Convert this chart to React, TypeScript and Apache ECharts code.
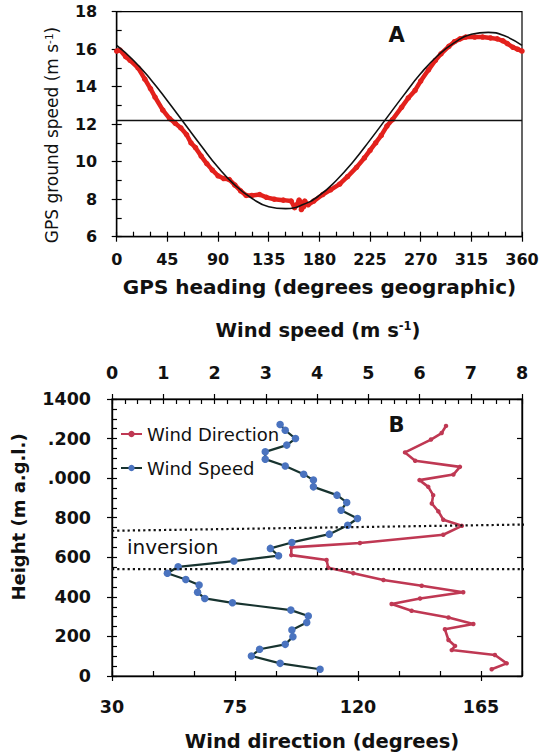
import React, { useEffect, useRef } from "react";
import * as echarts from "echarts";

const FONT = "DejaVu Sans";

// ---------- Panel A: GPS ground speed vs heading ----------
const fitHeading = [0, 15, 30, 45, 60, 75, 90, 105, 120, 135, 150, 165, 180, 195, 210, 225, 240, 255, 270, 285, 300, 315, 330, 345, 360];
const fitSpeed = [16.2, 15.4, 14.4, 13.25, 12.05, 10.85, 9.7, 8.75, 8.05, 7.6, 7.5, 7.7, 8.2, 9.0, 10.0, 11.15, 12.35, 13.55, 14.7, 15.65, 16.35, 16.8, 16.9, 16.7, 16.2];

const obsHeading = [0, 3, 8, 12, 19, 25, 30, 34, 41, 47, 52, 57, 62, 66, 70, 75, 80, 85, 90, 95, 100, 105, 110, 115, 120, 127, 133, 140, 148, 155, 158, 160, 162, 163, 164, 166, 167, 170, 175, 183, 190, 198, 205, 213, 220, 225, 230, 235, 240, 245, 253, 259, 265, 270, 277, 283, 288, 295, 300, 305, 310, 318, 325, 332, 338, 343, 347, 352, 356, 360];
const obsSpeed = [15.9, 15.95, 15.6, 15.4, 15.0, 14.4, 13.9, 13.45, 12.75, 12.3, 12.05, 11.8, 11.45, 11.0, 10.75, 10.3, 9.9, 9.55, 9.25, 9.1, 9.05, 8.75, 8.45, 8.2, 8.2, 8.25, 8.1, 8.0, 7.95, 7.9, 7.55, 7.7, 7.95, 7.85, 7.45, 7.6, 7.9, 7.7, 7.9, 8.25, 8.5, 8.8, 9.2, 9.7, 10.2, 10.6, 11.0, 11.4, 11.9, 12.25, 12.9, 13.4, 13.8, 14.3, 14.9, 15.4, 15.75, 16.15, 16.4, 16.55, 16.65, 16.65, 16.65, 16.6, 16.55, 16.45, 16.3, 16.1, 16.0, 15.9];

const meanGroundSpeed = 12.2;

// ---------- Panel B: wind profile ----------
const windSpeedHeights = [1271, 1242, 1200, 1167, 1133, 1096, 1061, 1020, 990, 956, 914, 877, 838, 796, 762, 717, 675, 645, 608, 581, 552, 519, 488, 460, 423, 392, 370, 333, 303, 270, 232, 198, 160, 135, 101, 64, 34];
const windSpeedValues = [3.28, 3.38, 3.58, 3.41, 2.99, 2.99, 3.38, 3.74, 3.93, 3.93, 4.39, 4.58, 4.47, 4.79, 4.6, 4.24, 3.51, 3.09, 3.25, 2.38, 1.29, 1.08, 1.44, 1.7, 1.67, 1.81, 2.35, 3.49, 3.83, 3.8, 3.51, 3.53, 3.38, 2.88, 2.72, 3.28, 4.06];

const windDirHeights = [1264, 1228, 1195, 1130, 1088, 1057, 1018, 990, 956, 914, 872, 832, 790, 759, 714, 672, 650, 611, 586, 547, 519, 485, 456, 423, 392, 364, 330, 296, 263, 236, 182, 152, 131, 106, 64, 34];
const windDirValues = [152.2, 150.6, 146.7, 137.2, 140.9, 157.3, 154.9, 142.5, 145.7, 147.5, 147, 149.4, 151.2, 158, 151.2, 120.7, 95.6, 95.6, 108.5, 109.1, 118.3, 129.3, 143.3, 158.5, 142.7, 132.3, 139.6, 153.1, 162.2, 151.8, 153.1, 155.5, 154.3, 170.1, 174.4, 168.9];

const heightTickValues = [0, 200, 400, 600, 800, 1000, 1200, 1400];
const heightTickLabels = ["0", "200", "400", "600", "800", ".000", ".200", "1400"];
const directionMajorTicks = [30, 75, 120, 165];

// inversion layer bounds (speed-axis extent, heights at both ends)
const inversionSpeedExtent = [0, 8.16];
const inversionTopHeights = [734, 766];
const inversionBaseHeights = [540, 540];

const axisLineStyle = { color: "#000", width: 1.4 };
const tickStyle = { color: "#000", width: 1.2 };

function mainAxis(extra: any) {
  return {
    type: "value",
    axisLine: { show: true, onZero: false, lineStyle: axisLineStyle },
    axisTick: { show: true, inside: true, length: 5, lineStyle: tickStyle },
    splitLine: { show: false },
    minorSplitLine: { show: false },
    ...extra,
  };
}
function overlayAxis(extra: any) {
  return {
    type: "value",
    axisLine: { show: false, onZero: false },
    axisTick: { show: true, inside: false, length: 5, lineStyle: tickStyle },
    axisLabel: { show: false },
    splitLine: { show: false },
    ...extra,
  };
}

export default function App() {
  const ref = useRef<HTMLDivElement>(null);
  useEffect(() => {
    if (!ref.current) return;
    const chart = echarts.init(ref.current, null, { renderer: "svg" });
    const labelA = { fontFamily: FONT, fontWeight: "bold", fontSize: 16, color: "#111" };
    const labelB = { fontFamily: FONT, fontWeight: "bold", fontSize: 17.5, color: "#111" };
    const txt = (x: number, y: number, text: string, size: number, weight: string, extra: any = {}) => ({
      type: "text",
      x,
      y,
      ...extra,
      style: {
        text,
        fontFamily: FONT,
        fontSize: size,
        fontWeight: weight,
        fill: "#111",
        align: extra.align || "center",
        textAlign: extra.align || "center",
        verticalAlign: "middle",
        textVerticalAlign: "middle",
        ...(extra.style || {}),
      },
    });
    const option: any = {
      animation: false,
      grid: [
        { left: 116.7, top: 11.7, width: 405.3, height: 225, show: true, borderColor: "#000", borderWidth: 1.2, containLabel: false, outerBoundsMode: "none" },
        { left: 112, top: 399, width: 410, height: 277, show: true, borderColor: "#000", borderWidth: 1.2, containLabel: false, outerBoundsMode: "none" },
      ],
      legend: {
        data: ["Wind Direction", "Wind Speed"],
        orient: "vertical",
        left: 120,
        top: 424,
        padding: 0,
        itemWidth: 21,
        itemHeight: 8,
        itemGap: 14,
        textStyle: { fontFamily: FONT, fontSize: 18, color: "#111", lineHeight: 20 },
      },
      xAxis: [
        mainAxis({
          gridIndex: 0, min: 0, max: 360, interval: 45, position: "bottom",
          minorTick: { show: true, splitNumber: 3, length: 5, lineStyle: tickStyle },
          axisLabel: { ...labelA, margin: 15 },
        }),
        overlayAxis({ gridIndex: 0, min: 0, max: 360, interval: 45, position: "bottom" }),
        mainAxis({
          gridIndex: 1, min: 0, max: 8, interval: 1, position: "top",
          minorTick: { show: true, splitNumber: 4, length: 5, lineStyle: tickStyle },
          axisLabel: { ...labelB, margin: 17 },
        }),
        overlayAxis({ gridIndex: 1, min: 0, max: 8, interval: 1, position: "top" }),
        mainAxis({
          gridIndex: 1, min: 30, max: 180, interval: 15, position: "bottom",
          axisLabel: {
            ...labelB, margin: 22,
            formatter: (v: number) => (directionMajorTicks.includes(v) ? String(v) : ""),
          },
        }),
        overlayAxis({
          gridIndex: 1, min: 30, max: 180, interval: 15, position: "bottom",
          axisTick: { show: true, inside: false, length: 5, lineStyle: tickStyle, customValues: directionMajorTicks },
        }),
      ],
      yAxis: [
        mainAxis({
          gridIndex: 0, min: 6, max: 18, interval: 2, position: "left",
          minorTick: { show: true, splitNumber: 2, length: 5, lineStyle: tickStyle },
          axisLabel: { ...labelA, margin: 19.5 },
        }),
        overlayAxis({ gridIndex: 0, min: 6, max: 18, interval: 2, position: "left" }),
        mainAxis({
          gridIndex: 1, min: 0, max: 1400, interval: 200, position: "left",
          minorTick: { show: true, splitNumber: 4, length: 5, lineStyle: tickStyle },
          axisLabel: {
            ...labelB, margin: 21,
            formatter: (v: number) => {
              const i = heightTickValues.indexOf(v);
              return i >= 0 ? heightTickLabels[i] : "";
            },
          },
        }),
        overlayAxis({ gridIndex: 1, min: 0, max: 1400, interval: 200, position: "left" }),
        mainAxis({
          gridIndex: 1, min: 0, max: 1400, interval: 200, position: "right",
          axisLabel: { show: false },
        }),
      ],
      series: [
        {
          type: "line", name: "Observed", xAxisIndex: 0, yAxisIndex: 0,
          data: obsHeading.map((h, i) => [h, obsSpeed[i]]),
          symbol: "circle", symbolSize: 5.5, showSymbol: true,
          itemStyle: { color: "#e3211c" },
          lineStyle: { color: "#e3211c", width: 4.5 },
          z: 2,
        },
        {
          type: "line", name: "Fit", xAxisIndex: 0, yAxisIndex: 0,
          data: fitHeading.map((h, i) => [h, fitSpeed[i]]),
          smooth: true, showSymbol: false,
          lineStyle: { color: "#111", width: 1.6 },
          z: 3,
        },
        {
          type: "line", name: "Mean", xAxisIndex: 0, yAxisIndex: 0,
          data: [[0, meanGroundSpeed], [360, meanGroundSpeed]],
          showSymbol: false,
          lineStyle: { color: "#111", width: 1.4 },
          z: 3,
        },
        {
          type: "line", name: "Wind Direction", xAxisIndex: 4, yAxisIndex: 2,
          data: windDirValues.map((d, i) => [d, windDirHeights[i]]),
          symbol: "circle", symbolSize: 4.5, showSymbol: true,
          itemStyle: { color: "#bf3853" },
          lineStyle: { color: "#bf3853", width: 2.6 },
          z: 3,
        },
        {
          type: "line", name: "Wind Speed", xAxisIndex: 2, yAxisIndex: 2,
          data: windSpeedValues.map((s, i) => [s, windSpeedHeights[i]]),
          symbol: "circle", symbolSize: 7.5, showSymbol: true,
          itemStyle: { color: "#4a73bf" },
          lineStyle: { color: "#17332f", width: 2.2 },
          z: 4,
        },
        {
          type: "line", name: "InversionTop", xAxisIndex: 2, yAxisIndex: 2, clip: false,
          data: inversionSpeedExtent.map((s, i) => [s, inversionTopHeights[i]]),
          showSymbol: false, silent: true,
          lineStyle: { color: "#111", width: 2.2, type: [2.2, 3] },
          z: 5,
        },
        {
          type: "line", name: "InversionBase", xAxisIndex: 2, yAxisIndex: 2, clip: false,
          data: inversionSpeedExtent.map((s, i) => [s, inversionBaseHeights[i]]),
          showSymbol: false, silent: true,
          lineStyle: { color: "#111", width: 2.2, type: [2.2, 3] },
          z: 5,
        },
      ],
      graphic: [
        {
          type: "text", x: 52, y: 135, rotation: Math.PI / 2,
          style: {
            text: "{n|GPS ground speed (m s}{s|-1}{n|)}",
            rich: {
              n: { fontFamily: FONT, fontSize: 17, fill: "#111" },
              s: { fontFamily: FONT, fontSize: 10.5, fill: "#111", verticalAlign: "top" },
            },
            align: "center", textAlign: "center", verticalAlign: "middle", textVerticalAlign: "middle",
          },
        },
        txt(319.5, 287, "GPS heading (degrees geographic)", 20, "bold"),
        txt(396.5, 34.5, "A", 21, "bold"),
        {
          type: "text", x: 318, y: 330,
          style: {
            text: "{n|Wind speed (m s}{s|-1}{n|)}",
            rich: {
              n: { fontFamily: FONT, fontSize: 19.5, fontWeight: "bold", fill: "#111" },
              s: { fontFamily: FONT, fontSize: 11.5, fontWeight: "bold", fill: "#111", verticalAlign: "top" },
            },
            align: "center", textAlign: "center", verticalAlign: "middle", textVerticalAlign: "middle",
          },
        },
        txt(18, 517, "Height (m a.g.l.)", 18, "bold", { rotation: Math.PI / 2 }),
        txt(322, 741, "Wind direction (degrees)", 19.5, "bold"),
        txt(396.5, 424.5, "B", 21, "bold"),
        txt(127, 547, "inversion", 20, "normal", { align: "left" }),
      ],
    };
    chart.setOption(option);
    return () => chart.dispose();
  }, []);
  return (
    <div
      ref={ref}
      style={{ position: "fixed", left: 0, top: 0, width: 543, height: 756, background: "#fff" }}
    />
  );
}
